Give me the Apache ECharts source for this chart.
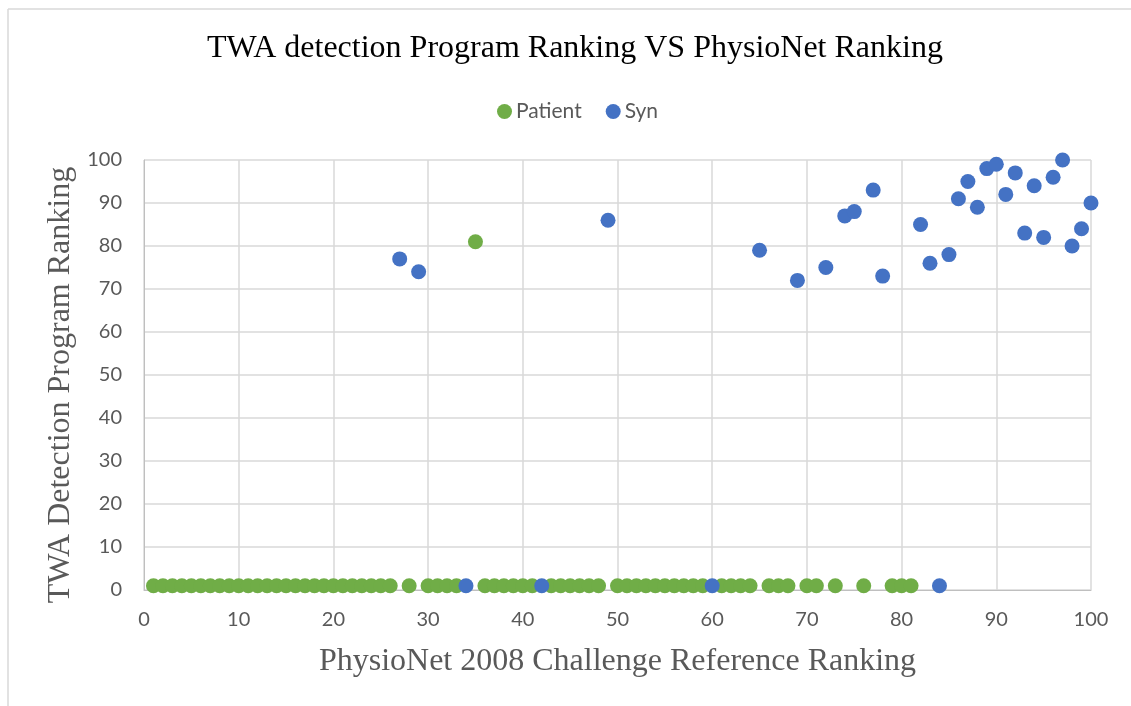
<!DOCTYPE html>
<html>
<head>
<meta charset="utf-8">
<script src="https://cdn.jsdelivr.net/npm/echarts@6/dist/echarts.min.js"></script>
<style>
html, body { margin: 0; padding: 0; background: #fff; }
#chartmain { width: 1131px; height: 706px; }
</style>
</head>
<body>
<div id="chartmain"></div>
<script>
// PhysioNet reference ranking (x) and TWA program ranking (y)
var patientX = [1, 2, 3, 4, 5, 6, 7, 8, 9, 10, 11, 12, 13, 14, 15, 16, 17, 18, 19, 20,
	21, 22, 23, 24, 25, 26, 28, 30, 31, 32, 33, 35, 36, 37, 38, 39, 40, 41, 43, 44,
	45, 46, 47, 48, 50, 51, 52, 53, 54, 55, 56, 57, 58, 59, 61, 62, 63, 64, 66, 67,
	68, 70, 71, 73, 76, 79, 80, 81];
var patientY = [1, 1, 1, 1, 1, 1, 1, 1, 1, 1, 1, 1, 1, 1, 1, 1, 1, 1, 1, 1,
	1, 1, 1, 1, 1, 1, 1, 1, 1, 1, 1, 81, 1, 1, 1, 1, 1, 1, 1, 1,
	1, 1, 1, 1, 1, 1, 1, 1, 1, 1, 1, 1, 1, 1, 1, 1, 1, 1, 1, 1,
	1, 1, 1, 1, 1, 1, 1, 1];
var synX = [27, 29, 34, 42, 49, 60, 65, 69, 72, 74, 75, 77, 78, 82, 83, 84,
	85, 86, 87, 88, 89, 90, 91, 92, 93, 94, 95, 96, 97, 98, 99, 100];
var synY = [77, 74, 1, 1, 86, 1, 79, 72, 75, 87, 88, 93, 73, 85, 76, 1,
	78, 91, 95, 89, 98, 99, 92, 97, 83, 94, 82, 96, 100, 80, 84, 90];
var seriesNames = ['Patient', 'Syn'];
var seriesColors = ['#70ad47', '#4472c4'];

function pairs(xs, ys) {
	var out = [];
	for (var i = 0; i < xs.length; i++) {
		out.push([xs[i], ys[i]]);
	}
	return out;
}

var labelFont = 'Lato, "Open Sans", sans-serif';
var serifFont = '"Liberation Serif", "DejaVu Serif", serif';

var option = {
	animation : false,
	backgroundColor : '#fff',
	title : {
		text : 'TWA detection Program Ranking VS PhysioNet Ranking',
		left : 202,
		top : 28,
		textStyle : {
			fontFamily : serifFont,
			fontSize : 32,
			fontWeight : 'normal',
			color : '#000'
		}
	},
	legend : {
		top : 96,
		left : 492,
		itemGap : 24,
		itemWidth : 15,
		itemHeight : 15,
		data : [ {name : seriesNames[0], icon : 'circle'}, {name : seriesNames[1], icon : 'circle'} ],
		textStyle : {
			fontFamily : labelFont,
			fontSize : 21,
			color : '#595959',
			padding : [0, 0, 0, -1]
		}
	},
	grid : {
		left : 144,
		right : 40,
		top : 160,
		bottom : 116
	},
	xAxis : {
		type : 'value',
		min : 0,
		max : 100,
		interval : 10,
		name : 'PhysioNet 2008 Challenge Reference Ranking',
		nameLocation : 'middle',
		nameGap : 56,
		nameTextStyle : {
			fontFamily : serifFont,
			fontSize : 32,
			color : '#595959'
		},
		axisLine : { show : true, lineStyle : { color : '#bfbfbf' } },
		axisTick : { show : false },
		axisLabel : {
			margin : 20,
			fontFamily : labelFont,
			fontSize : 20,
			color : '#595959'
		},
		splitLine : { show : true, lineStyle : { color : '#d9d9d9', width : 1.5 } }
	},
	yAxis : {
		type : 'value',
		min : 0,
		max : 100,
		interval : 10,
		name : 'TWA Detection Program Ranking',
		nameLocation : 'middle',
		nameGap : 66,
		nameTextStyle : {
			fontFamily : serifFont,
			fontSize : 32,
			color : '#595959',
			padding : [0, 20, 0, 0]
		},
		axisLine : { show : true, lineStyle : { color : '#bfbfbf' } },
		axisTick : { show : false },
		axisLabel : {
			margin : 22,
			fontFamily : labelFont,
			fontSize : 20,
			color : '#595959'
		},
		splitLine : { show : true, lineStyle : { color : '#d9d9d9', width : 1.5 } }
	},
	graphic : [
		{ type : 'line', shape : { x1 : 8, y1 : 9, x2 : 1131, y2 : 9 }, style : { stroke : '#d9d9d9', lineWidth : 1.5 } },
		{ type : 'line', shape : { x1 : 8, y1 : 9, x2 : 8, y2 : 706 }, style : { stroke : '#d9d9d9', lineWidth : 1.5 } }
	],
	series : [ {
		name : seriesNames[0],
		type : 'scatter',
		symbol : 'circle',
		symbolSize : 15,
		itemStyle : { color : seriesColors[0], opacity : 1 },
		data : pairs(patientX, patientY)
	}, {
		name : seriesNames[1],
		type : 'scatter',
		symbol : 'circle',
		symbolSize : 15,
		itemStyle : { color : seriesColors[1], opacity : 1 },
		data : pairs(synX, synY)
	} ]
};

var myChart = echarts.init(document.getElementById('chartmain'));
myChart.setOption(option);
</script>
</body>
</html>
